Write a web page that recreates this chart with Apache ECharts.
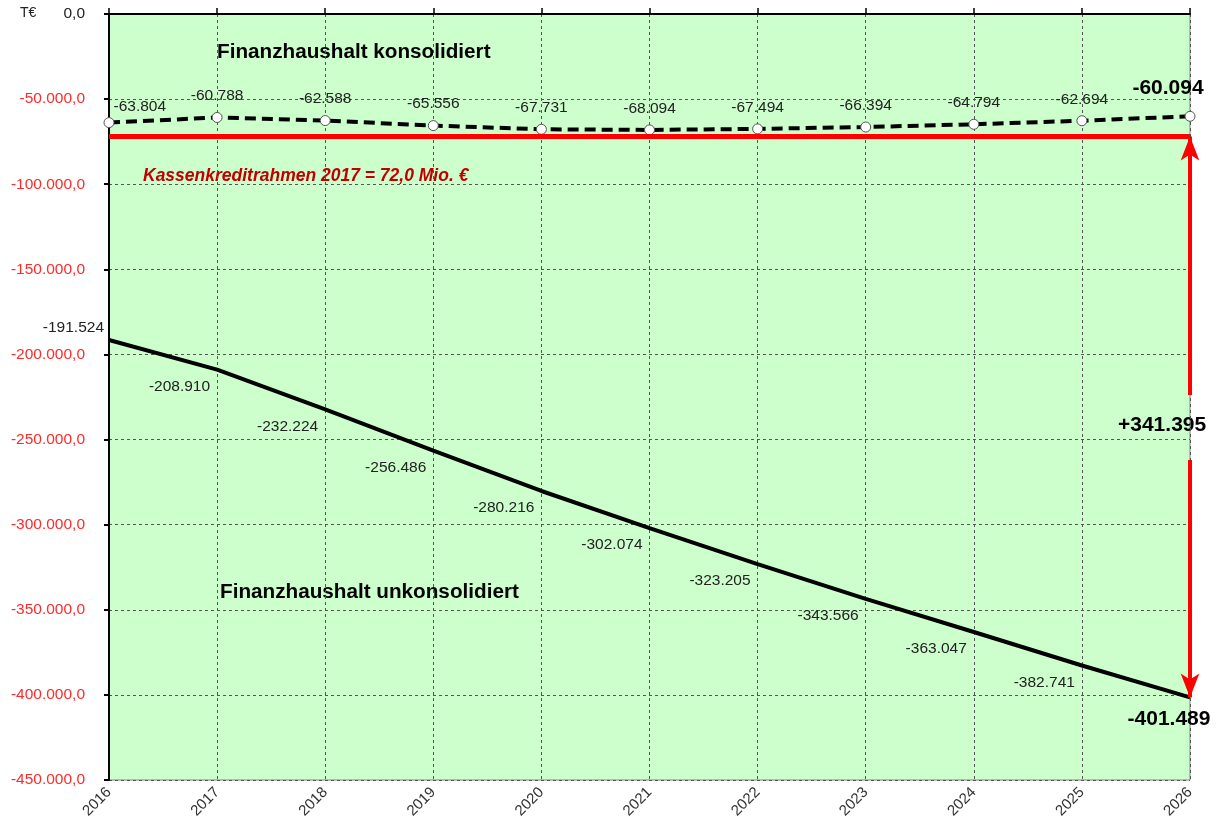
<!DOCTYPE html>
<html lang="de">
<head>
    <meta charset="UTF-8">
    <title>Finanzhaushalt</title>
    <script type="text/javascript" src="https://cdn.jsdelivr.net/npm/echarts@6/dist/echarts.min.js"></script>
    <style>
        html, body { margin: 0; padding: 0; background: #fff; }
        #main { width: 1228px; height: 837px; }
    </style>
</head>
<body>
<div id="main"></div>
<script type="text/javascript">
    // Daten
    var years = ['2016', '2017', '2018', '2019', '2020', '2021', '2022', '2023', '2024', '2025', '2026'];
    var konsolidiert = [-63804, -60788, -62588, -65556, -67731, -68094, -67494, -66394, -64794, -62694, -60094];
    var unkonsolidiert = [-191524, -208910, -232224, -256486, -280216, -302074, -323205, -343566, -363047, -382741, -401489];
    var kassenkredit = -72000;
    var arrowGap = [-223800, -262000];

    function tausender(v) {
        var s = String(Math.abs(Math.round(v)));
        var out = '';
        while (s.length > 3) {
            out = '.' + s.slice(-3) + out;
            s = s.slice(0, -3);
        }
        return (v < 0 ? '-' : '') + s + out;
    }

    var last = years.length - 1;
    var differenz = konsolidiert[last] - unkonsolidiert[last];

    var konsData = konsolidiert.map(function (v, i) {
        var item = {value: v};
        if (i === 0) {
            item.label = {position: 'right', distance: 0, offset: [-1, -16]};
        }
        if (i === last) {
            item.label = {position: 'top', distance: 12, offset: [-22, 0], fontSize: 21, fontWeight: 'bold', color: '#000'};
        }
        return item;
    });
    var unkData = unkonsolidiert.map(function (v, i) {
        var item = {value: v};
        if (i === 0) {
            item.label = {position: 'left', distance: 4, offset: [0, -12]};
        }
        if (i === last) {
            item.label = {position: 'bottom', distance: 10, offset: [-21, 0], fontSize: 21, fontWeight: 'bold', color: '#000'};
        }
        return item;
    });

    var myChart = echarts.init(document.getElementById('main'));
    var font = 'Liberation Sans, Arial, sans-serif';

    var option = {
        animation: false,
        textStyle: {fontFamily: font},
        grid: {
            left: 109, right: 38, top: 14, bottom: 57,
            show: true, backgroundColor: '#ccffcc', borderColor: '#808080', borderWidth: 1
        },
        xAxis: [{
            type: 'category',
            data: years,
            boundaryGap: false,
            position: 'bottom',
            axisLine: {lineStyle: {color: '#808080', width: 1.5}},
            axisTick: {show: false},
            axisLabel: {rotate: 45, color: '#333', fontSize: 15, margin: 10, fontFamily: font},
            splitLine: {show: true, lineStyle: {color: '#555', type: [3, 3], width: 1}}
        }, {
            type: 'category',
            data: years,
            boundaryGap: false,
            position: 'top',
            axisLine: {lineStyle: {color: '#000', width: 2}},
            axisTick: {show: true, length: 6, lineStyle: {color: '#000', width: 1.5}},
            axisLabel: {show: false},
            splitLine: {show: false}
        }],
        yAxis: {
            type: 'value',
            min: -450000,
            max: 0,
            interval: 50000,
            axisLine: {show: true, lineStyle: {color: '#000', width: 2}},
            axisTick: {show: true, length: 5, lineStyle: {color: '#000', width: 2}},
            axisLabel: {
                margin: 24,
                fontSize: 15.5,
                color: '#ff2a2a',
                fontFamily: font,
                formatter: function (v) {
                    if (v === 0) { return '{z|0,0}'; }
                    return tausender(v) + ',0';
                },
                rich: {z: {color: '#222', fontSize: 15.5, fontFamily: font}}
            },
            splitLine: {show: true, lineStyle: {color: '#555', type: [3, 3], width: 1}}
        },
        series: [{
            name: 'Finanzhaushalt unkonsolidiert',
            type: 'line',
            data: unkData,
            symbol: 'circle',
            symbolSize: 2,
            showSymbol: true,
            itemStyle: {color: 'rgba(0,0,0,0)', borderWidth: 0},
            lineStyle: {color: '#000', width: 4},
            label: {
                show: true, position: 'left', distance: 6, offset: [0, 17],
                fontSize: 15.5, color: '#222', fontFamily: font,
                formatter: function (p) { return tausender(p.value); }
            },
            markLine: {
                silent: true,
                symbol: ['none', 'none'],
                label: {show: false},
                lineStyle: {color: '#ff0000', width: 5, type: 'solid'},
                data: [{yAxis: kassenkredit}]
            },
            z: 2
        }, {
            name: 'Finanzhaushalt konsolidiert',
            type: 'line',
            data: konsData,
            symbol: 'circle',
            symbolSize: 10,
            itemStyle: {color: '#fff', borderColor: '#555', borderWidth: 1},
            lineStyle: {color: '#000', width: 4, type: [11, 6]},
            label: {
                show: true, position: 'top', distance: 8,
                fontSize: 15.5, color: '#222', fontFamily: font,
                formatter: function (p) { return tausender(p.value); }
            },
            z: 4
        }, {
            // Differenzpfeil
            type: 'line',
            data: [],
            markLine: {
                silent: true,
                symbol: ['none', 'arrow'],
                symbolSize: [14, 24],
                label: {show: false},
                lineStyle: {color: '#ff0000', width: 4, type: 'solid'},
                data: [
                    [{coord: [years[last], arrowGap[0]]}, {coord: [years[last], kassenkredit]}],
                    [{coord: [years[last], arrowGap[1]]}, {coord: [years[last], unkonsolidiert[last]]}]
                ]
            },
            z: 3
        }],
        graphic: [{
            type: 'text', left: 20, top: 6,
            style: {text: 'T€', font: '14px ' + font, fill: '#222'}
        }, {
            type: 'text', left: 217, top: 42,
            style: {text: 'Finanzhaushalt konsolidiert', font: 'bold 20.7px ' + font, fill: '#000'}
        }, {
            type: 'text', left: 220, top: 582,
            style: {text: 'Finanzhaushalt unkonsolidiert', font: 'bold 20.7px ' + font, fill: '#000'}
        }, {
            type: 'text', left: 143, top: 167,
            style: {text: 'Kassenkreditrahmen 2017 = 72,0 Mio. €', font: 'italic bold 17.5px ' + font, fill: '#c00000'}
        }, {
            type: 'text', left: 1118, top: 415,
            style: {text: '+' + tausender(differenz), font: 'bold 21px ' + font, fill: '#000'}
        }]
    };

    myChart.setOption(option);
</script>
</body>
</html>
